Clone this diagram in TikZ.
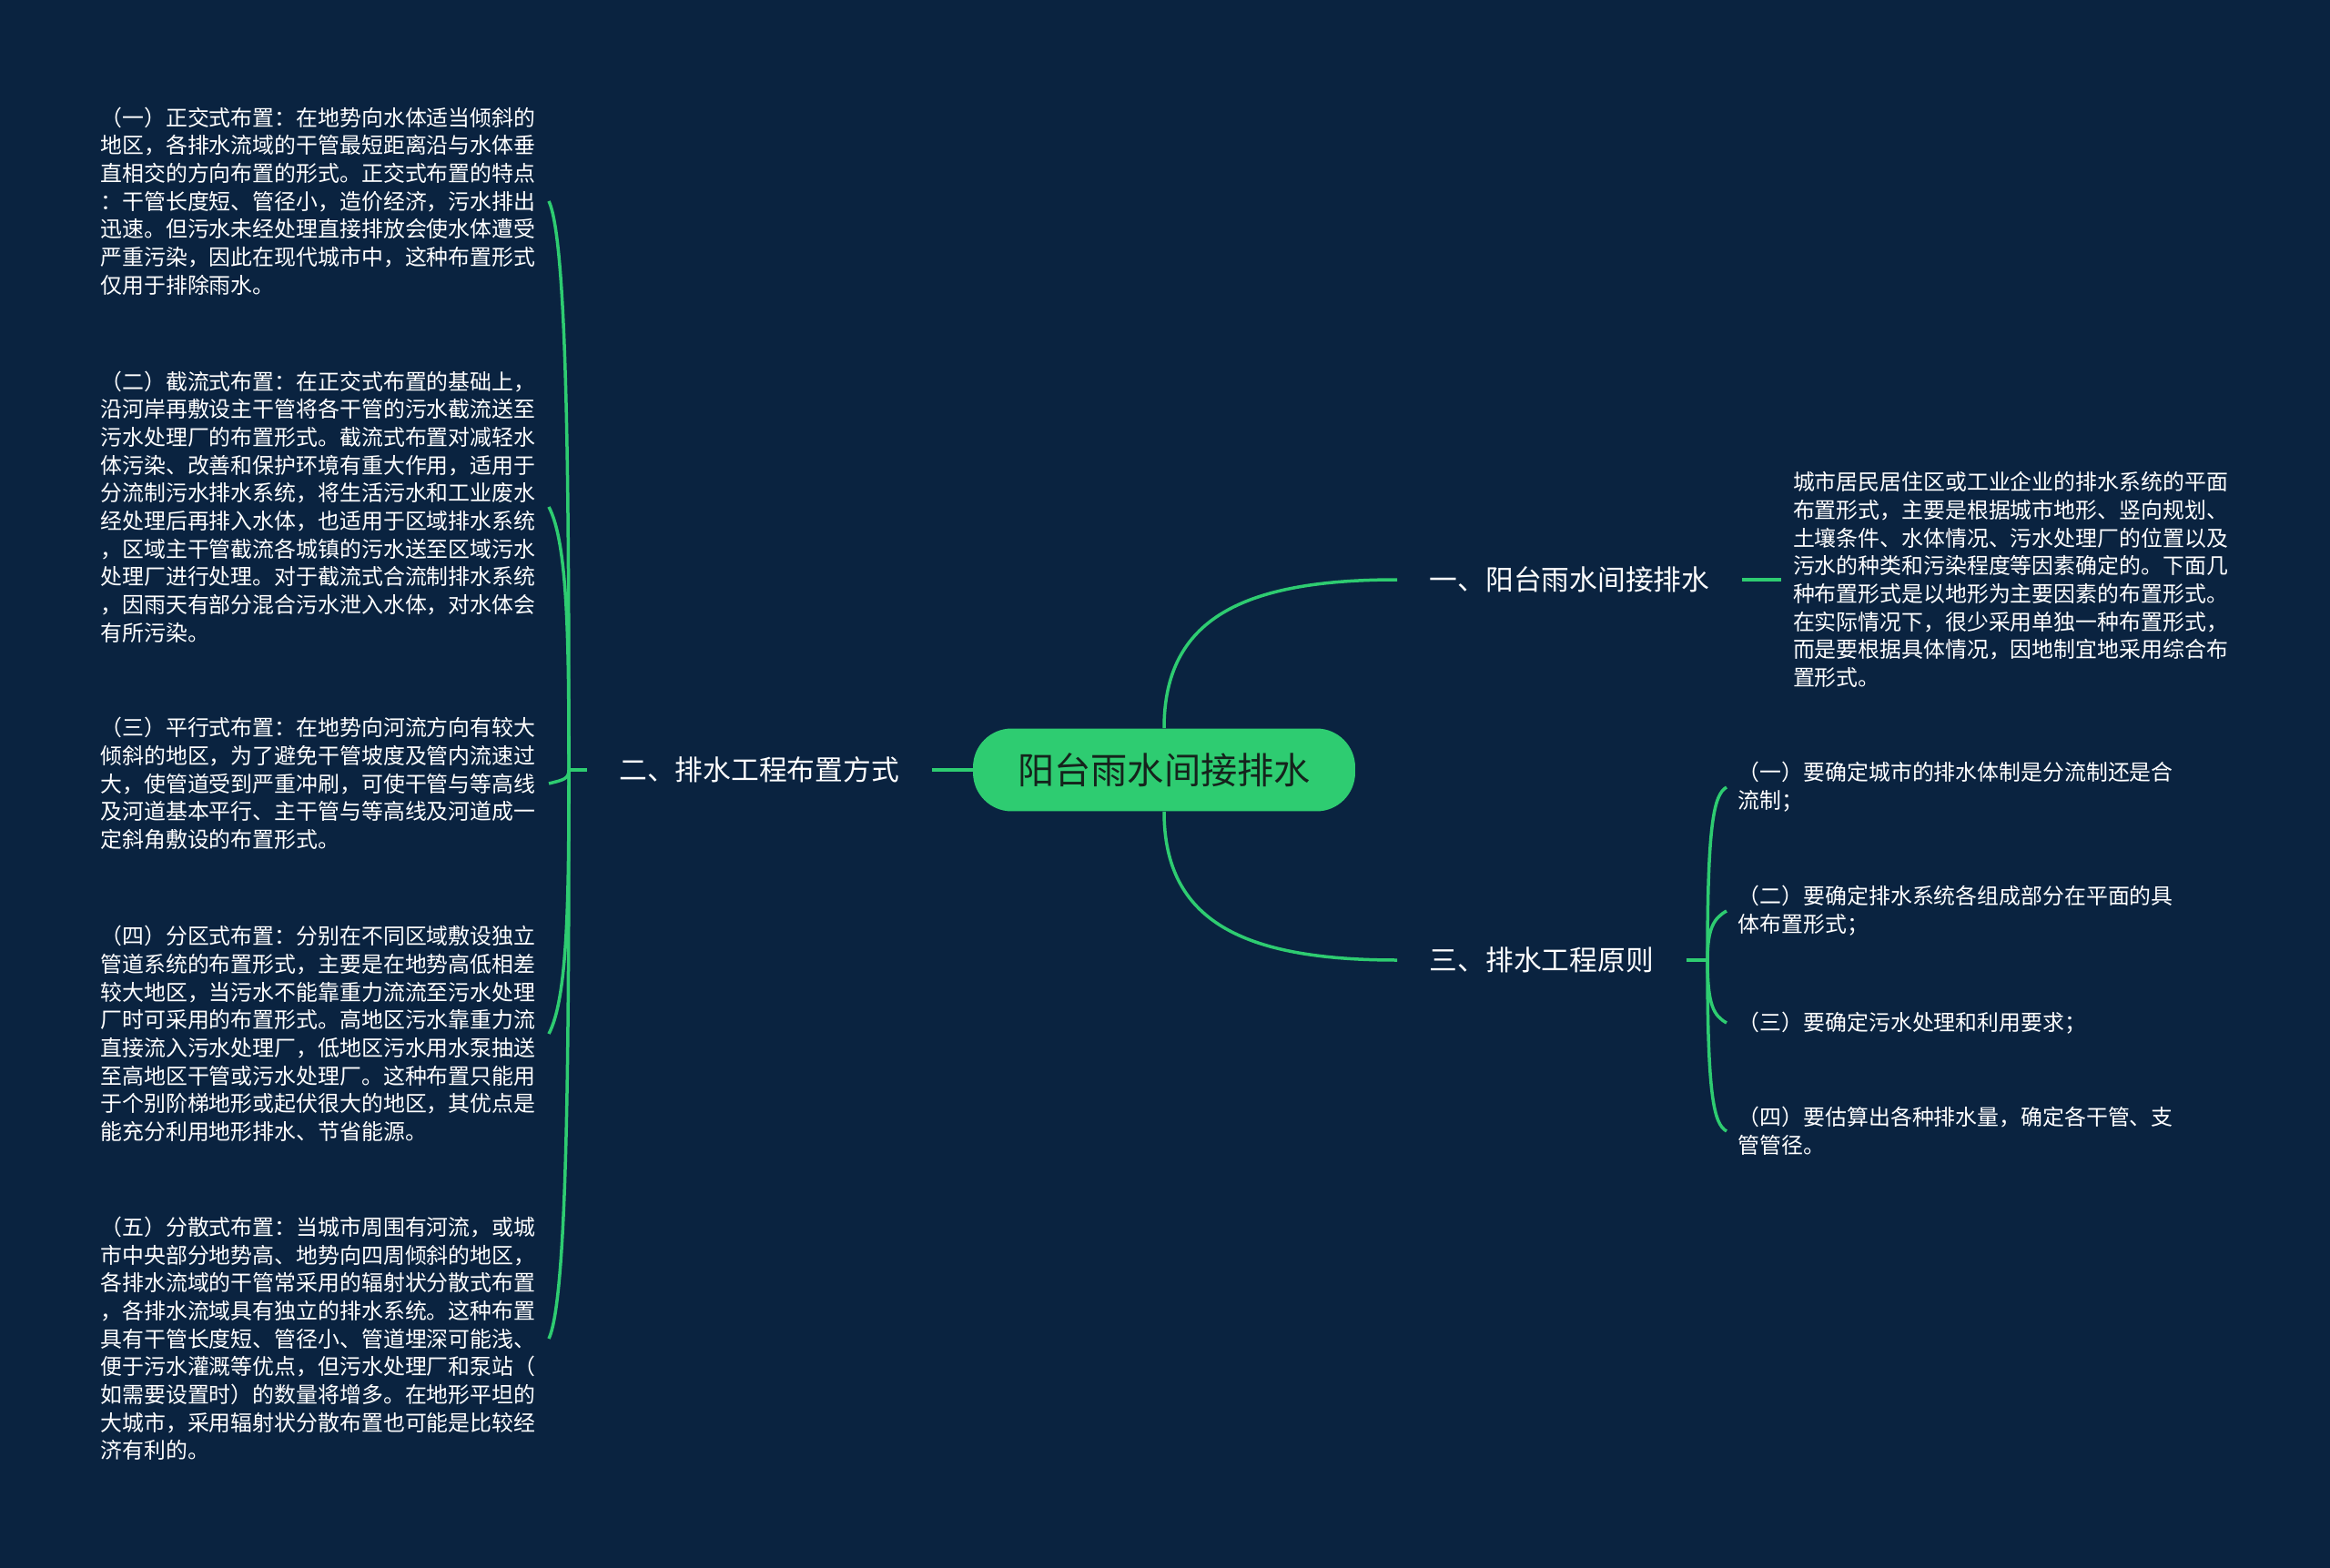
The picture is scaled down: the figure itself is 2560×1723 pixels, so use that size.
\documentclass[tikz,border=0pt]{standalone}
\usepackage{fontspec}
\setmainfont{Noto Sans CJK SC}
\usepackage{xcolor}
\usepackage{tikz}
\usetikzlibrary{positioning}

\definecolor{bgnavy}{HTML}{0A2340}
\definecolor{mapgreen}{HTML}{2ECC71}
\definecolor{rootink}{HTML}{15231C}

\begin{document}
\begin{tikzpicture}[
  x=0.02cm, y=-0.02cm,
  root/.style={fill=mapgreen, rounded corners=0.85cm, minimum width=8.4cm, minimum height=1.82cm, text=rootink, font=\fontsize{22.9}{28}\selectfont},
  branch/.style={inner xsep=0.71cm, inner ysep=4pt, text=white, font=\fontsize{17.5}{21}\selectfont},
  leaf/.style={inner xsep=0.25cm, inner ysep=2pt, text=white, text width=273pt, align=left, font=\fontsize{13.6}{17.46}\selectfont},
  link/.style={draw=mapgreen, line width=0.07cm}
]
  \fill[bgnavy] (0,0) rectangle (2560,1723);

  % centre and main branches
  \node[root] (root) at (1279,846) {阳台雨水间接排水};
  \node[branch, anchor=west] (indirect) at (1535,637) {一、阳台雨水间接排水};
  \node[branch, anchor=west] (rules) at (1535,1055) {三、排水工程原则};
  \node[branch, left=0.9cm of root] (layout) {二、排水工程布置方式};

  \node[leaf, right=0.86cm of indirect] (desc) {城市居民居住区或工业企业的排水系统的平面\\
布置形式，主要是根据城市地形、竖向规划、\\
土壤条件、水体情况、污水处理厂的位置以及\\
污水的种类和污染程度等因素确定的。下面几\\
种布置形式是以地形为主要因素的布置形式。\\
在实际情况下，很少采用单独一种布置形式，\\
而是要根据具体情况，因地制宜地采用综合布\\
置形式。};

  % left leaves
  \node[leaf, anchor=east] (ortho) at (603,221) {（一）正交式布置：在地势向水体适当倾斜的\\
地区，各排水流域的干管最短距离沿与水体垂\\
直相交的方向布置的形式。正交式布置的特点\\
：干管长度短、管径小，造价经济，污水排出\\
迅速。但污水未经处理直接排放会使水体遭受\\
严重污染，因此在现代城市中，这种布置形式\\
仅用于排除雨水。};
  \node[leaf, anchor=east] (intercept) at (603,557) {（二）截流式布置：在正交式布置的基础上，\\
沿河岸再敷设主干管将各干管的污水截流送至\\
污水处理厂的布置形式。截流式布置对减轻水\\
体污染、改善和保护环境有重大作用，适用于\\
分流制污水排水系统，将生活污水和工业废水\\
经处理后再排入水体，也适用于区域排水系统\\
，区域主干管截流各城镇的污水送至区域污水\\
处理厂进行处理。对于截流式合流制排水系统\\
，因雨天有部分混合污水泄入水体，对水体会\\
有所污染。};
  \node[leaf, anchor=east] (parallel) at (603,861) {（三）平行式布置：在地势向河流方向有较大\\
倾斜的地区，为了避免干管坡度及管内流速过\\
大，使管道受到严重冲刷，可使干管与等高线\\
及河道基本平行、主干管与等高线及河道成一\\
定斜角敷设的布置形式。};
  \node[leaf, anchor=east] (zoned) at (603,1136) {（四）分区式布置：分别在不同区域敷设独立\\
管道系统的布置形式，主要是在地势高低相差\\
较大地区，当污水不能靠重力流流至污水处理\\
厂时可采用的布置形式。高地区污水靠重力流\\
直接流入污水处理厂，低地区污水用水泵抽送\\
至高地区干管或污水处理厂。这种布置只能用\\
于个别阶梯地形或起伏很大的地区，其优点是\\
能充分利用地形排水、节省能源。};
  \node[leaf, anchor=east] (radial) at (603,1471) {（五）分散式布置：当城市周围有河流，或城\\
市中央部分地势高、地势向四周倾斜的地区，\\
各排水流域的干管常采用的辐射状分散式布置\\
，各排水流域具有独立的排水系统。这种布置\\
具有干管长度短、管径小、管道埋深可能浅、\\
便于污水灌溉等优点，但污水处理厂和泵站（\\
如需要设置时）的数量将增多。在地形平坦的\\
大城市，采用辐射状分散布置也可能是比较经\\
济有利的。};

  % right leaves
  \node[leaf, anchor=west] (system) at (1897,865) {（一）要确定城市的排水体制是分流制还是合\\
流制；};
  \node[leaf, anchor=west] (parts) at (1897,1001) {（二）要确定排水系统各组成部分在平面的具\\
体布置形式；};
  \node[leaf, anchor=west] (treat) at (1897,1124) {（三）要确定污水处理和利用要求；};
  \node[leaf, anchor=west] (flow) at (1897,1243) {（四）要估算出各种排水量，确定各干管、支\\
管管径。};

  \coordinate (lfork) at (625,846);
  \coordinate (rfork) at (1876,1055);

  \draw[link] (root.north) .. controls +(0,-120) and +(-170,0) .. (indirect.west);
  \draw[link] (root.south) .. controls +(0,120) and +(-170,0) .. (rules.west);
  \draw[link] (root.west) -- (layout.east);
  \draw[link] (indirect.east) -- (desc.west);
  \draw[link] (layout.west) -- (lfork);
  \draw[link] (rules.east) -- (rfork);

  \draw[link] (lfork) .. controls +(0,-300) and +(21,45) .. (ortho.east);
  \draw[link] (lfork) .. controls +(0,-140) and +(21,40) .. (intercept.east);
  \draw[link] (lfork) .. controls +(0,10) and +(16,-4) .. (parallel.east);
  \draw[link] (lfork) .. controls +(0,140) and +(21,-40) .. (zoned.east);
  \draw[link] (lfork) .. controls +(0,300) and +(21,-45) .. (radial.east);

  \draw[link] (rfork) .. controls +(0,-150) and +(-14,8) .. (system.west);
  \draw[link] (rfork) .. controls +(0,-35) and +(-14,8) .. (parts.west);
  \draw[link] (rfork) .. controls +(0,50) and +(-14,-8) .. (treat.west);
  \draw[link] (rfork) .. controls +(0,150) and +(-14,-8) .. (flow.west);
\end{tikzpicture}
\end{document}
